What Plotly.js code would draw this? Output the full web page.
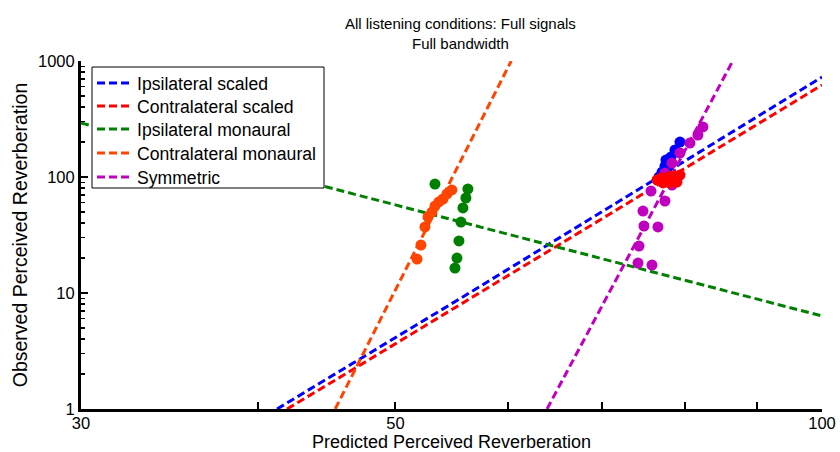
<!DOCTYPE html>
<html>
<head>
<meta charset="utf-8">
<script src="https://cdn.plot.ly/plotly-3.0.1.min.js"></script>
<style>html,body{margin:0;padding:0;background:#fff;}#chart{width:840px;height:452px;}</style>
</head>
<body>
<div id="chart"></div>
<script>
// Fitted lines (log-log straight lines, endpoints)
const ipsiScaledLineX = [41.25, 55.5, 100];
const ipsiScaledLineY = [1, 8.9, 727];
const contraScaledLineX = [41.93, 46.97, 69.71, 100];
const contraScaledLineY = [1, 2.3, 42.6, 621];
const ipsiMonLineX = [30, 100];
const ipsiMonLineY = [292, 6.34];
const contraMonLineX = [45.34, 60.35];
const contraMonLineY = [1, 1000];
const symLineX = [63.97, 86.5];
const symLineY = [1, 1000];

// Observed points
const ipsiScaledX = [79.39, 78.75, 78.24, 77.6, 77.48, 77.11, 76.74];
const ipsiScaledY = [200, 171, 149, 140, 124, 110, 100];
const symX = [82.4, 81.74, 80.69, 79.39, 78.37, 77.48, 78.12, 78.37, 75.74, 77.48, 74.76, 74.88, 76.6, 74.28, 74.16, 75.86];
const symY = [270, 230, 196, 161, 132, 108, 94.2, 85.3, 75.7, 62.1, 50.9, 37.8, 37.1, 25.4, 18.1, 17.4];
const contraScaledX = [76.49, 76.99, 77.48, 78.0, 78.5, 79.0, 79.39, 77.24, 78.12, 79.0];
const contraScaledY = [94.2, 98.0, 96.1, 100, 102, 100, 104, 88.8, 88.8, 90.5];
const ipsiMonX = [53.32, 56.25, 56.07, 55.80, 55.62, 55.44, 55.26, 55.08];
const ipsiMonY = [87.0, 78.8, 65.9, 54.1, 40.9, 28.1, 20.0, 16.4];
const contraMonX = [54.8, 54.37, 54.02, 53.66, 53.32, 53.06, 52.72, 52.46, 52.12, 51.79];
const contraMonY = [77.3, 71.4, 64.6, 60.9, 56.2, 49.9, 45.2, 37.1, 25.9, 19.6];

const names = ['Ipsilateral scaled', 'Contralateral scaled', 'Ipsilateral monaural', 'Contralateral monaural', 'Symmetric'];
const colors = ['#0000FF', '#FF0000', '#008000', '#FF4500', '#BF00BF'];

const xTickVals = [30, 40, 50, 60, 70, 80, 90, 100];
const xTickText = ['30', '', '50', '', '', '', '', '100'];
const yTickVals = [1, 10, 100, 1000];
const yTickText = ['1', '10', '100', '1000'];
const yMinor = [];
[1, 10, 100].forEach(d => { for (let k = 2; k <= 9; k++) yMinor.push(k * d); });

const DASH = '8px,4px';
const lineSets = [
  [ipsiScaledLineX, ipsiScaledLineY],
  [contraScaledLineX, contraScaledLineY],
  [ipsiMonLineX, ipsiMonLineY],
  [contraMonLineX, contraMonLineY],
  [symLineX, symLineY]
];
const traces = [];
lineSets.forEach((s, i) => {
  traces.push({
    x: s[0], y: s[1], type: 'scatter', mode: 'lines', name: names[i], showlegend: false,
    line: {color: colors[i], width: 3, dash: DASH}
  });
});
const pointSets = [
  [ipsiScaledX, ipsiScaledY, 0],
  [ipsiMonX, ipsiMonY, 2],
  [contraMonX, contraMonY, 3],
  [symX, symY, 4],
  [contraScaledX, contraScaledY, 1]
];
pointSets.forEach(s => {
  traces.push({
    x: s[0], y: s[1], type: 'scatter', mode: 'markers', showlegend: false,
    marker: {color: colors[s[2]], size: 11, line: {width: 0}}
  });
});

const font = 'Liberation Sans, Arial, sans-serif';

// Plot area geometry (pixels)
const L = 81, R = 822, T = 61, B = 409;
const px = v => (v - L) / (R - L);
const py = v => (B - v) / (B - T);

// Hand-made legend box (MATLAB style)
const shapes = [{
  type: 'rect', xref: 'paper', yref: 'paper',
  x0: px(92), x1: px(324), y0: py(188), y1: py(67),
  line: {color: '#000', width: 1}, fillcolor: '#fff', layer: 'above'
}];
const annotations = [];
const rowY = [83, 106, 129, 153, 177];
names.forEach((n, i) => {
  shapes.push({
    type: 'line', xref: 'paper', yref: 'paper',
    x0: px(97), x1: px(133), y0: py(rowY[i]), y1: py(rowY[i]),
    line: {color: colors[i], width: 3, dash: DASH}, layer: 'above'
  });
  annotations.push({
    xref: 'paper', yref: 'paper', x: px(135), y: py(rowY[i] + 1),
    xanchor: 'left', yanchor: 'middle', showarrow: false, text: n,
    font: {family: font, size: 17.6, color: '#000'}
  });
});

const layout = {
  width: 840, height: 452,
  margin: {l: L, r: 840 - R, t: T, b: 452 - B},
  paper_bgcolor: '#fff', plot_bgcolor: '#fff',
  font: {family: font, color: '#000', size: 16},
  title: {
    text: 'All listening conditions: Full signals<br>Full bandwidth',
    font: {family: font, size: 15, color: '#000'},
    x: 0.512, xanchor: 'center', xref: 'paper',
    y: 0.935, yanchor: 'top', yref: 'container'
  },
  xaxis: {
    type: 'log', range: [Math.log10(30), 2],
    tickvals: xTickVals, ticktext: xTickText,
    ticks: 'inside', ticklen: 7, tickwidth: 2, tickcolor: '#000',
    ticklabelstandoff: -3,
    showline: true, linecolor: '#000', linewidth: 3, mirror: false,
    showgrid: false, zeroline: false,
    tickfont: {family: font, size: 16.5, color: '#000'},
    title: {text: 'Predicted Perceived Reverberation', font: {family: font, size: 18, color: '#000'}, standoff: 3},
    automargin: false
  },
  yaxis: {
    type: 'log', range: [0, 3],
    tickvals: yTickVals, ticktext: yTickText,
    ticks: 'inside', ticklen: 7, tickwidth: 2, tickcolor: '#000',
    minor: {tickvals: yMinor, ticks: 'inside', ticklen: 4, tickwidth: 1.5, tickcolor: '#000'},
    showline: true, linecolor: '#000', linewidth: 3, mirror: false,
    showgrid: false, zeroline: false,
    tickfont: {family: font, size: 16.5, color: '#000'},
    title: {text: 'Observed Perceived Reverberation', font: {family: font, size: 19.5, color: '#000'}, standoff: 6},
    automargin: false
  },
  shapes: shapes,
  annotations: annotations,
  showlegend: false
};
Plotly.newPlot('chart', traces, layout, {displayModeBar: false, staticPlot: true});
</script>
</body>
</html>
